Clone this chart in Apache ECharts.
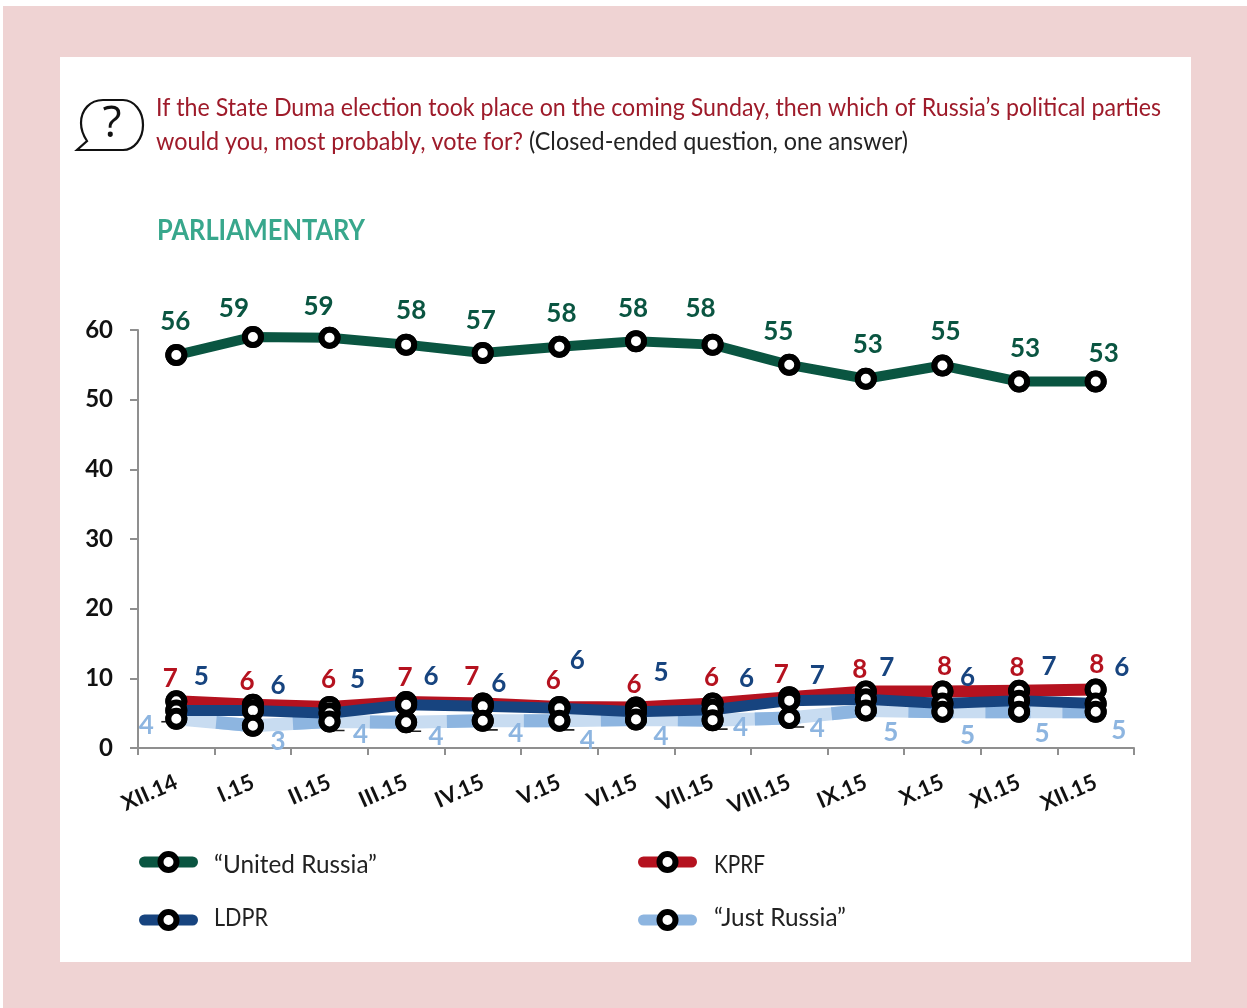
<!DOCTYPE html>
<html><head><meta charset="utf-8">
<style>html,body{margin:0;padding:0;background:#fff}#c{width:1247px;height:1008px}</style>
<script src="https://cdn.jsdelivr.net/npm/echarts@6/dist/echarts.min.js"></script>
</head><body><div id="c"></div>
<script>
const categories=['XII.14','I.15','II.15','III.15','IV.15','V.15','VI.15','VII.15','VIII.15','IX.15','X.15','XI.15','XII.15'];
const yTicks=[0,10,20,30,40,50,60];
const unitedRussia=[56.4,59,58.9,57.9,56.7,57.6,58.4,57.9,55,53,54.9,52.6,52.6];
const kprf=[6.7,6.2,5.9,6.6,6.4,5.9,5.8,6.4,7.3,8.1,8.1,8.2,8.4];
const ldpr=[5.4,5.4,5,6.2,6,5.7,5.2,5.5,6.8,7,6.4,6.8,6.4];
const justRussia=[4.2,3.2,3.8,3.7,3.9,3.9,4.1,4,4.3,5.4,5.2,5.2,5.2];
const urLabels=[56,59,59,58,57,58,58,58,55,53,55,53,53];
const kprfLabels=[7,6,6,7,7,6,6,6,7,8,8,8,8];
const ldprLabels=[5,6,5,6,6,6,5,6,7,7,6,7,6];
const jrLabels=[4,3,4,4,4,4,4,4,4,5,5,5,5];
// label nudges, pixels from the point
const urDx=[-2,-20,-12,4,-3,1,-4,-13,-12,1,2,5,7], urDy=[-34,-29,-32,-35,-33,-34,-34,-37,-34,-35,-35,-34,-29];
const kpDx=[-7,-7,-2,-2,-12,-7,-3,-2,-9,-7,1,-3,0], kpDy=[-24,-24,-28,-25,-28,-27,-24,-27,-24,-23,-26,-24,-26];
const ldDx=[24,24,27,24,15,17,24,33,27,20,24,29,25], ldDy=[-35,-26,-35,-29,-24,-49,-40,-32,-26,-33,-27,-35,-37];
const jrDx=[-31,24,30,29,32,27,24,27,27,24,24,22,22], jrDy=[6,15,12,13,12,19,16,6,10,21,23,21,18];
const leaderPoints=[0,2,3,4,5,7,8];

const names={ur:'“United Russia”',kp:'KPRF',ld:'LDPR',jr:'“Just Russia”'};
const colors={ur:'#0a5541',kp:'#b5121f',ld:'#17447f',jr:'#8db5e0',jrLight:'#c8dcf1'};
const font='Lato';
const question1='If the State Duma election took place on the coming Sunday, then which of Russia’s political parties';
const question2='would you, most probably, vote for?';
const question3='(Closed-ended question, one answer)';
const sectionTitle='PARLIAMENTARY';
const measure=document.createElement('canvas').getContext('2d');
function fitX(text,css,target){measure.font=css;return target/measure.measureText(text).width;}
const sym={symbol:'circle',symbolSize:16,showSymbol:true,showAllSymbol:true,itemStyle:{color:'#fff',borderColor:'#000',borderWidth:6,opacity:1}};
function labelled(vals,txt,dx,dy,color){
  return vals.map((v,i)=>({value:v,label:{show:true,position:'inside',formatter:String(txt[i]),offset:[dx[i]+1,dy[i]+1],color,fontFamily:font,fontWeight:'bold',fontSize:26}}));
}
function line(name,data,color,width,z,extra){
  return Object.assign({type:'line',name,data,z,...sym,smooth:false,animation:false,lineStyle:{color,width,cap:'round',join:'round'},emphasis:{disabled:true}},extra||{});
}
function markers(data,z){
  return {type:'line',data,z,...sym,animation:false,silent:true,lineStyle:{width:0,opacity:0}};
}
const qCss='25px Lato', tCss='bold 28px Lato', lCss='25px Lato';
const legendRows=[['ur',139,851,214,865,163],['kp',638,851,714,865,51],['ld',139,909,214,918,54],['jr',638,909,714,918,132]];
const option={
  animation:false,backgroundColor:'#fff',
  textStyle:{fontFamily:font},
  grid:{left:138,right:113,top:330,bottom:260,containLabel:false},
  xAxis:{type:'category',data:categories,boundaryGap:true,
    axisLine:{lineStyle:{color:'#8f8f8f',width:2}},
    axisTick:{show:true,alignWithLabel:false,length:7,lineStyle:{color:'#8f8f8f',width:2}},
    axisLabel:{interval:0,rotate:24,margin:33,color:'#111',fontFamily:font,fontWeight:'bold',fontSize:22}},
  yAxis:{type:'value',min:0,max:60,interval:10,
    axisLine:{show:true,lineStyle:{color:'#8f8f8f',width:2}},
    axisTick:{show:true,length:8,lineStyle:{color:'#8f8f8f',width:2}},
    splitLine:{show:false},
    axisLabel:{margin:25,color:'#111',fontFamily:font,fontWeight:'bold',fontSize:24,padding:[5,0,0,0],
      formatter:v=>yTicks.includes(v)?String(v):''}},
  legend:legendRows.map(([k,left,top])=>({data:[names[k]],left,top,itemWidth:48,itemHeight:20,itemGap:0,
    padding:0,selectedMode:false,formatter:()=>' ',
    lineStyle:{width:11,cap:'round',type:'solid'},
    itemStyle:{color:'#fff',borderColor:'#000',borderWidth:6}})),
  graphic:[
    {type:'rect',z:-11,shape:{x:3,y:6,width:1244,height:1002},style:{fill:'#efd3d3'},silent:true},
    {type:'rect',z:-10,shape:{x:60,y:57,width:1131,height:905},style:{fill:'#fff'},silent:true},
    {type:'text',z:10,x:112,y:124,style:{text:'?',fontFamily:'Open Sans',fontSize:44,fill:'#111',align:'center',verticalAlign:'middle'},silent:true},
    {type:'text',z:10,x:156,y:108,scaleX:fitX(question1,qCss,1005),style:{text:question1,font:qCss,fill:'#9e1b2a',verticalAlign:'middle'},silent:true},
    {type:'text',z:10,x:156,y:142,scaleX:fitX(question2,qCss,367),style:{text:question2,font:qCss,fill:'#9e1b2a',verticalAlign:'middle'},silent:true},
    {type:'text',z:10,x:529,y:142,scaleX:fitX(question3,qCss,379),style:{text:question3,font:qCss,fill:'#222',verticalAlign:'middle'},silent:true},
    {type:'text',z:10,x:157,y:231,scaleX:fitX(sectionTitle,tCss,208),style:{text:sectionTitle,font:tCss,fill:'#38a78c',verticalAlign:'middle'},silent:true},
    ...legendRows.map(([k,,,x,y,w])=>({type:'text',z:10,x,y,scaleX:fitX(names[k],lCss,w),style:{text:names[k],font:lCss,fill:'#222',verticalAlign:'middle'},silent:true}))
  ],
  series:[
    line(names.ur,labelled(unitedRussia,urLabels,urDx,urDy,colors.ur),colors.ur,10,3),
    line(names.kp,labelled(kprf,kprfLabels,kpDx,kpDy,colors.kp),colors.kp,12,3),
    line(names.ld,labelled(ldpr,ldprLabels,ldDx,ldDy,colors.ld),colors.ld,11,3),
    {type:'line',data:justRussia,z:2,symbol:'none',animation:false,silent:true,lineStyle:{color:colors.jrLight,width:13}},
    line(names.jr,labelled(justRussia,jrLabels,jrDx,jrDy,colors.jr),colors.jr,13,2,{lineStyle:{color:colors.jr,width:13,type:[45,32],dashOffset:37,cap:'butt'}}),
    {type:'custom',z:4,silent:true,animation:false,data:leaderPoints.map(i=>[i,justRussia[i]]),
      renderItem:(p,api)=>{const c=api.coord([api.value(0),api.value(1)]);const first=api.value(0)===0;
        const s=first?[[c[0]-15,c[1]+3],[c[0],c[1]+3]]:[[c[0]+3,c[1]+5],[c[0]+3,c[1]+9],[c[0]+15,c[1]+9]];
        return {type:'polyline',shape:{points:s},style:{stroke:'#222',lineWidth:1.6,fill:'none'}};},
      encode:{x:0,y:1}},
    {type:'custom',coordinateSystem:'none',z:6,silent:true,animation:false,data:[0],
      renderItem:()=>({type:'path',shape:{pathData:'M87 141 C83 135 81 129 81 123 C81 110 90 100 103 100 H123 C134 100 143 111 143 125 C143 139 134 150 123 150 H77 Z',layout:'cover',x:77,y:100,width:66,height:50},style:{fill:'none',stroke:'#111',lineWidth:2.2}})},
    markers(unitedRussia,5),markers(kprf,5),markers(ldpr,5),markers(justRussia,5)
  ]
};
const chart=echarts.init(document.getElementById('c'),null,{renderer:'canvas'});
chart.setOption(option);
</script></body></html>
